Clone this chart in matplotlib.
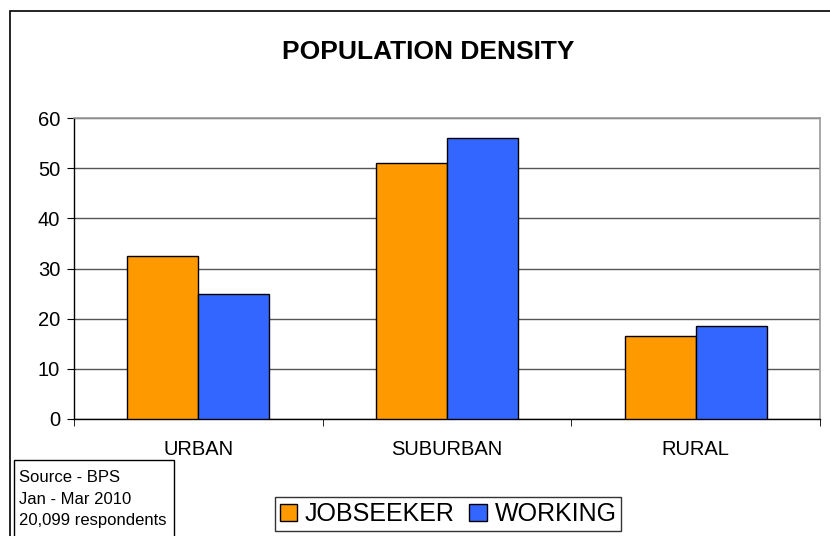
import matplotlib
matplotlib.use('Agg')
import matplotlib.pyplot as plt
import numpy as np
from matplotlib.patches import Rectangle

# data
categories = ['URBAN', 'SUBURBAN', 'RURAL']
jobseeker = [32.5, 51.0, 16.5]
working = [25.0, 56.1, 18.5]
series_names = ['JOBSEEKER', 'WORKING']
source_lines = ['Source - BPS', 'Jan - Mar 2010', '20,099 respondents']

plt.rcParams['font.family'] = ['Liberation Sans', 'DejaVu Sans']

W, H = 830, 536
fig = plt.figure(figsize=(W / 100, H / 100), dpi=100)

# outer chart border (runs off the right/bottom edge)
fig.add_artist(Rectangle((10 / W, -0.05), 1.0, (H - 11) / H + 0.05,
                         transform=fig.transFigure, fill=False,
                         edgecolor='black', linewidth=1.2))

# plot area
ax = fig.add_axes([74 / W, (H - 419) / H, (820 - 74) / W, (419 - 118) / H])
x = np.arange(len(categories))
bw = 0.285
ax.bar(x - bw / 2, jobseeker, bw, color='#FF9900', edgecolor='black',
       linewidth=1.0, label=series_names[0], zorder=3)
ax.bar(x + bw / 2, working, bw, color='#3366FF', edgecolor='black',
       linewidth=1.0, label=series_names[1], zorder=3)

ax.set_xlim(-0.5, 2.5)
ax.set_ylim(0, 60)
ax.set_yticks(range(0, 61, 10))
ax.set_xticks(x)
ax.set_xticklabels(categories, fontsize=14.5)
ax.set_xticks([-0.5, 0.5, 1.5, 2.5], minor=True)
ax.tick_params(axis='x', which='major', length=0, pad=15)
ax.tick_params(axis='x', which='minor', length=5, direction='out')
ax.tick_params(axis='y', labelsize=14.5, length=5, direction='out', pad=5)
ax.yaxis.grid(True, color='#555555', linewidth=1.0, zorder=0)
ax.set_axisbelow(True)
for side in ['top', 'right']:
    ax.spines[side].set_color('#999999')
    ax.spines[side].set_linewidth(1.2)
for side in ['left', 'bottom']:
    ax.spines[side].set_color('black')
    ax.spines[side].set_linewidth(1.0)

fig.text(428 / W, 1 - 52 / H, 'POPULATION DENSITY', ha='center', va='center',
         fontsize=19, fontweight='bold')

# legend
leg = fig.legend(loc='center', bbox_to_anchor=(448 / W, 1 - 514 / H),
                 ncol=2, fontsize=18, frameon=True, fancybox=False,
                 handlelength=0.7, handleheight=0.7, handletextpad=0.3,
                 columnspacing=0.6, borderpad=0.2, borderaxespad=0)
leg.get_frame().set_edgecolor('black')
leg.get_frame().set_linewidth(1.0)

# source box
fig.add_artist(Rectangle((14 / W, -0.01), 160 / W, (H - 460) / H + 0.01,
                         transform=fig.transFigure, fill=False,
                         edgecolor='black', linewidth=1.0))
for i, line in enumerate(source_lines):
    fig.text(19 / W, 1 - (477 + i * 22) / H, line, ha='left', va='center',
             fontsize=12)

fig.savefig('out.png', dpi=100)
